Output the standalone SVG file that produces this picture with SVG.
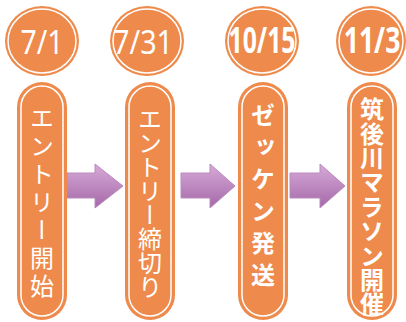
<svg xmlns="http://www.w3.org/2000/svg" width="406" height="322" viewBox="0 0 406 322">
<style>
.disc{fill:#EE8A4B;}
.ring{fill:none;stroke:#FFFFFF;stroke-width:1.5;}
.date{fill:#FFFFFF;font-family:"Noto Sans","Open Sans",sans-serif;font-size:33px;text-anchor:middle;}
.date.b{font-weight:bold;font-size:35px;}
.lbl{fill:#FFFFFF;font-family:"Noto Sans CJK JP",sans-serif;font-size:24px;writing-mode:vertical-rl;}
.lbl.b{font-weight:bold;}
.arrow{fill:url(#ag);stroke:#B98ABD;stroke-width:1;}
</style>
<defs>
<linearGradient id="ag" x1="0" y1="0" x2="0" y2="1">
<stop offset="0" stop-color="#D7AAD8"/>
<stop offset="1" stop-color="#A468A8"/>
</linearGradient>
</defs>
<g id="connectors">
<path class="arrow" d="M67,173 H95 V164 L123,186 L95,208 V198 H67 Z"/>
<path class="arrow" d="M181,173 H210 V164 L235,186 L210,208 V198 H181 Z"/>
<path class="arrow" d="M290,173 H320 V164 L345,186 L320,208 V198 H290 Z"/>
</g>
<g id="date-1">
<ellipse class="disc" cx="42" cy="41" rx="37" ry="35"/>
<ellipse class="ring" cx="42" cy="41" rx="34" ry="32"/>
<text class="date" x="42" y="54" textLength="43" lengthAdjust="spacingAndGlyphs">7/1</text>
</g>
<g id="step-1">
<rect class="disc" x="17" y="82" width="50" height="238" rx="25" ry="25"/>
<rect class="ring" x="21" y="86" width="42" height="230" rx="21" ry="21"/>
<text class="lbl" x="42" y="106" letter-spacing="4">エントリー開始</text>
</g>
<g id="date-2">
<ellipse class="disc" cx="147" cy="41" rx="37" ry="35"/>
<ellipse class="ring" cx="147" cy="41" rx="34" ry="32"/>
<text class="date" x="143" y="54" textLength="60" lengthAdjust="spacingAndGlyphs">7/31</text>
</g>
<g id="step-2">
<rect class="disc" x="125" y="82" width="50" height="238" rx="25" ry="25"/>
<rect class="ring" x="129" y="86" width="42" height="230" rx="21" ry="21"/>
<text class="lbl" x="150" y="107">エントリー締切り</text>
</g>
<g id="date-3">
<ellipse class="disc" cx="262" cy="41" rx="37" ry="35"/>
<ellipse class="ring" cx="262" cy="41" rx="34" ry="32"/>
<text class="date b" x="262" y="53" textLength="67" lengthAdjust="spacingAndGlyphs">10/15</text>
</g>
<g id="step-3">
<rect class="disc" x="238" y="82" width="50" height="238" rx="25" ry="25"/>
<rect class="ring" x="242" y="86" width="42" height="230" rx="21" ry="21"/>
<text class="lbl b" x="263" y="103" letter-spacing="8">ゼッケン発送</text>
</g>
<g id="date-4">
<ellipse class="disc" cx="371" cy="41" rx="35" ry="35"/>
<ellipse class="ring" cx="371" cy="41" rx="32" ry="32"/>
<text class="date b" transform="translate(372,53) scale(0.76,1)" x="0" y="0">11/3</text>
</g>
<g id="step-4">
<rect class="disc" x="347" y="82" width="50" height="238" rx="25" ry="25"/>
<rect class="ring" x="351" y="86" width="42" height="230" rx="21" ry="21"/>
<text class="lbl b" x="372" y="97" font-size="23" letter-spacing="0.4">筑後川マラソン開催</text>
</g>
</svg>
